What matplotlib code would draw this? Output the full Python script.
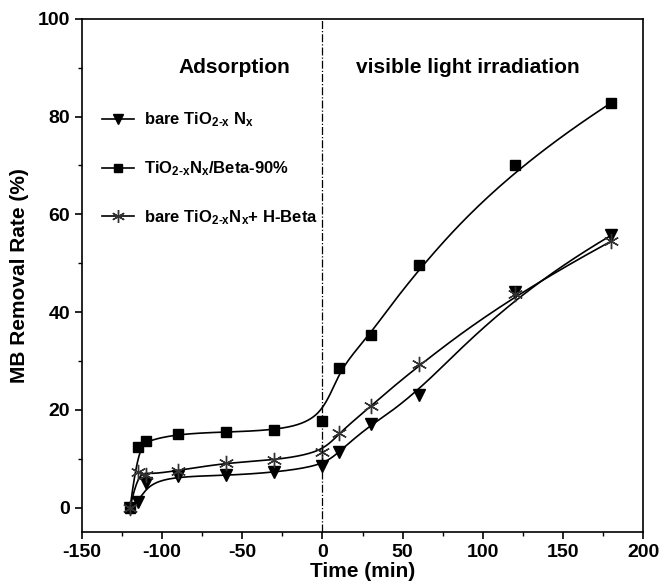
import matplotlib
matplotlib.use("Agg")
import matplotlib.pyplot as plt
import numpy as np

plt.rcParams['font.family'] = ['Liberation Sans', 'DejaVu Sans']
plt.rcParams['font.weight'] = 'bold'
plt.rcParams['mathtext.fontset'] = 'custom'
plt.rcParams['mathtext.rm'] = 'Liberation Sans:bold'
plt.rcParams['mathtext.bf'] = 'Liberation Sans:bold'
plt.rcParams['mathtext.default'] = 'bf'
plt.rcParams['axes.unicode_minus'] = False

# Data (time in min, removal rate in %)
time = [-120, -115, -110, -90, -60, -30, 0, 10, 30, 60, 120, 180]
bare = [0, 1.1, 5.0, 6.4, 6.6, 7.2, 8.6, 11.3, 17.1, 23.1, 44.1, 55.7]
beta90 = [0, 12.4, 13.7, 15.1, 15.5, 15.8, 17.8, 28.5, 35.3, 49.6, 70.0, 82.8]
mixed = [0, 7.4, 6.7, 7.6, 9.2, 9.7, 11.3, 15.2, 20.7, 29.3, 43.8, 54.5]

labels = [r'bare TiO$_{2\text{-}x}$ N$_x$',
          r'TiO$_{2\text{-}x}$N$_x$/Beta-90%',
          r'bare TiO$_{2\text{-}x}$N$_x$+ H-Beta']


def bspline(x, y, n=400):
    # clamped uniform cubic B-spline, data points used as control points
    P = np.column_stack([x, y]).astype(float)
    m = len(P)
    k = 3
    knots = np.concatenate([[0] * k, np.arange(m - k + 1), [m - k] * k]).astype(float)
    t = np.linspace(0, m - k - 1e-9, n)
    N = np.zeros((n, len(knots) - 1))
    for i in range(len(knots) - 1):
        N[:, i] = (knots[i] <= t) & (t < knots[i + 1])
    for d in range(1, k + 1):
        Nn = np.zeros((n, len(knots) - 1 - d))
        for i in range(len(knots) - 1 - d):
            a = knots[i + d] - knots[i]
            b = knots[i + d + 1] - knots[i + 1]
            if a > 0:
                Nn[:, i] += (t - knots[i]) / a * N[:, i]
            if b > 0:
                Nn[:, i] += (knots[i + d + 1] - t) / b * N[:, i + 1]
        N = Nn
    C = N @ P
    return C[:, 0], C[:, 1]


fig = plt.figure(figsize=(6.61, 5.88), dpi=100)
ax = fig.add_axes([0.124, 0.095, 0.849, 0.873])

series = [(bare, 'v', 9, 'black'), (beta90, 's', 7.5, 'black'), (mixed, (6, 2, 0), 11, '#333333')]
for (vals, mk, ms, col), lab in zip(series, labels):
    sx, sy = bspline(time, vals)
    ax.plot(sx, sy, color='black', lw=1.2)
    ax.plot(time, vals, linestyle='none', marker=mk, ms=ms, color=col, mew=1.0)
    ax.plot([], [], color='black', lw=1.2, marker=mk, ms=ms * 0.85, mew=1.0,
            markerfacecolor=col, markeredgecolor=col, label=lab)

ax.axvline(0, color='black', lw=0.9, linestyle='-.')

ax.set_xlim(-150, 200)
ax.set_ylim(-5, 100)
ax.set_xticks(np.arange(-150, 201, 50))
ax.set_xticks(np.arange(-125, 200, 50), minor=True)
ax.set_yticks(np.arange(0, 101, 20))
ax.set_yticks(np.arange(10, 100, 20), minor=True)
ax.tick_params(which='major', direction='out', length=5, width=1.2, labelsize=14, top=False, right=False)
ax.tick_params(which='minor', direction='out', length=3, width=1.0, top=False, right=False)
for sp in ax.spines.values():
    sp.set_linewidth(1.2)

ax.set_xlabel('Time (min)', fontsize=15, fontweight='bold', labelpad=1)
ax.set_ylabel('MB Removal Rate (%)', fontsize=15, fontweight='bold', labelpad=6)

ax.text(-55, 90, 'Adsorption', fontsize=15, fontweight='bold', ha='center', va='center')
ax.text(90.5, 90, 'visible light irradiation', fontsize=15, fontweight='bold', ha='center', va='center')

ax.legend(loc='upper left', bbox_to_anchor=(0.0, 0.86), frameon=False, fontsize=12,
          handlelength=1.9, handletextpad=0.6, labelspacing=1.8, borderaxespad=0.8)

fig.savefig('out.png', dpi=100)
